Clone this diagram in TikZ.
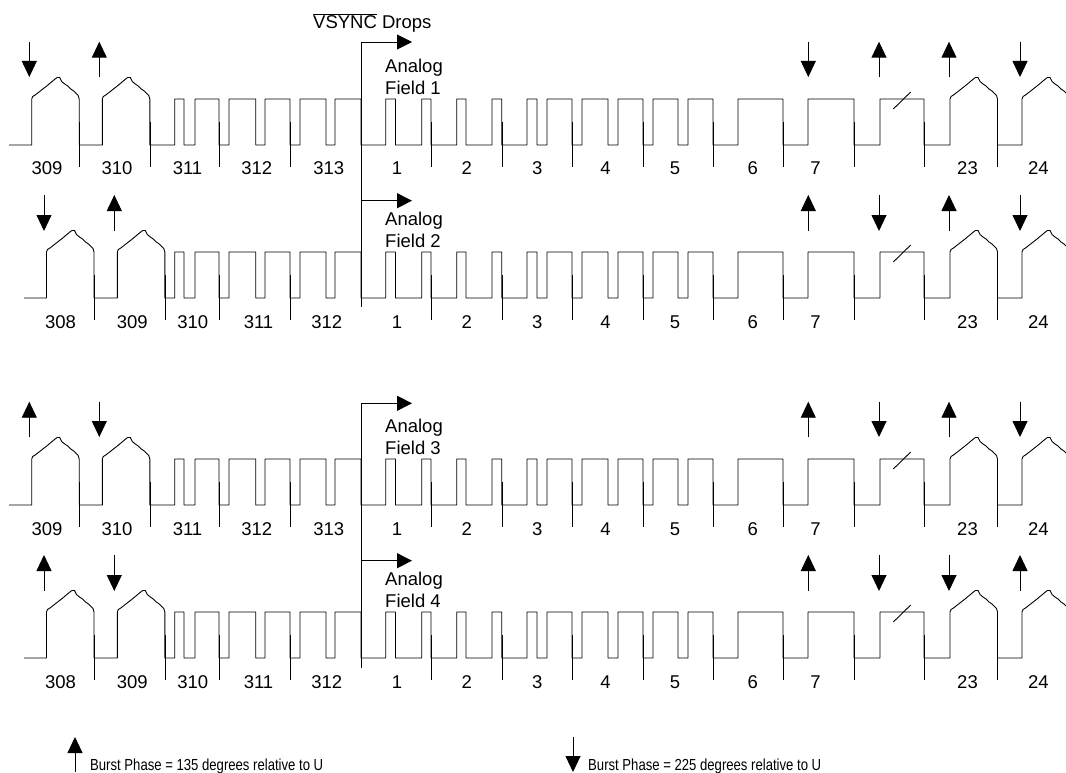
\documentclass[tikz,border=0pt]{standalone}
\usepackage{fontspec}
\setmainfont{Liberation Sans}
\usetikzlibrary{arrows.meta}

\newcommand{\burstbump}{-- ++(1,-2.5) -- ++(2.5,-1.5) -- ++(11.5,-9) -- ++(9,-7.5) -- ++(1.5,-1) -- ++(2.5,0) -- ++(2,4) -- ++(3,2.5) -- ++(3,2) -- ++(3,3) -- ++(3,2) -- ++(2.5,2.5) -- ++(2,2) -- ++(1,3.5)}
\newcommand{\pulsetrain}{\foreach \rx/\fx in {174.7/184,195/219,229/255.7,265/290,300/326,335/361,385.7/395.5,421.7/431,456.7/466,492/501.7,527/537,547/572,582/608,618/643,653/678,688/713,738/783,808/854,880/924} {-- (\rx,0) -- (\rx,-46) -- (\fx,-46) -- (\fx,0)} -- (950,0) -- (950,-46) \burstbump -- ++(0,46) -- (1022,0) -- (1022,-46) \burstbump}
\newcommand{\linenums}[1]{\foreach \x/\t in {397/1,466.7/2,537.3/3,605.5/4,675/5,752.7/6,815.5/7,967.5/23,1038.3/24} \node[anchor=base] (#1-\t) at (\x,30) {\t};}

\begin{document}
\begin{tikzpicture}[x=1pt,y=-1pt,
	wave/.style={line width=0.9pt, line join=round},
	tick/.style={line width=0.9pt},
	phase/.style={line width=0.9pt, -{Triangle[length=16pt,width=15pt]}},
	drop/.style={line width=0.9pt, -{Triangle[length=15pt,width=15pt]}},
	legend/.style={anchor=base west, font=\fontsize{16}{18}\selectfont},
	every node/.style={font=\fontsize{18.5}{22.3}\selectfont, inner sep=0pt}]
\useasboundingbox (0,0) rectangle (1066,773);
\begin{scope}
\clip (0,0) rectangle (1066,773);
	% field 1
	\begin{scope}[shift={(0,145)}]
		\draw[wave] (9,0) -- (31.7,0) -- ++(0,-46) \burstbump -- ++(0,46) -- (102.3,0) -- ++(0,-46) \burstbump -- ++(0,46) \pulsetrain;
		\foreach \x in {79,150,219,290,431,502,572,643,713,783,854,924,997} \draw[tick] (\x,-23) -- (\x,22);
		\draw[wave] (893.3,-36) -- (910.7,-53);
		\foreach \x/\t in {47/309,117/310,187.5/311,256.7/312,328.7/313} \node[anchor=base] (a-\t) at (\x,30) {\t};
		\linenums{a}
		\foreach \x in {29.3,808.3,1020} \draw[phase] (\x,-103.3) -- (\x,-68);
		\foreach \x in {99.3,879,949} \draw[phase] (\x,-68) -- (\x,-103.3);
		\node[anchor=south west, align=left] (field1) at (385,-50) {Analog\\Field 1};
	\end{scope}
	% field 2
	\begin{scope}[shift={(0,298)}]
		\draw[wave] (24,0) -- (46.5,0) -- ++(0,-46) \burstbump -- ++(0,46) -- (117.3,0) -- ++(0,-46) \burstbump -- ++(0,46) \pulsetrain;
		\foreach \x in {94.3,165,219,290,431,502,572,643,713,783,854,924,997} \draw[tick] (\x,-23) -- (\x,22);
		\draw[wave] (893.3,-36) -- (910.7,-53);
		\foreach \x/\t in {60.5/308,132.3/309,192.8/310,258.5/311,326.7/312} \node[anchor=base] (b-\t) at (\x,30) {\t};
		\linenums{b}
		\foreach \x in {44,879,1020} \draw[phase] (\x,-103) -- (\x,-67);
		\foreach \x in {114.3,808.3,949} \draw[phase] (\x,-67) -- (\x,-103);
		\node[anchor=south west, align=left] (field2) at (385,-50) {Analog\\Field 2};
	\end{scope}
	% field 3
	\begin{scope}[shift={(0,505)}]
		\draw[wave] (9,0) -- (31.7,0) -- ++(0,-46) \burstbump -- ++(0,46) -- (102.3,0) -- ++(0,-46) \burstbump -- ++(0,46) \pulsetrain;
		\foreach \x in {79,150,219,290,431,502,572,643,713,783,854,924,997} \draw[tick] (\x,-23) -- (\x,22);
		\draw[wave] (893.3,-36) -- (910.7,-53);
		\foreach \x/\t in {47/309,117/310,187.5/311,256.7/312,328.7/313} \node[anchor=base] (c-\t) at (\x,30) {\t};
		\linenums{c}
		\foreach \x in {99.3,879,1020} \draw[phase] (\x,-103.3) -- (\x,-68);
		\foreach \x in {29.3,808.3,949} \draw[phase] (\x,-68) -- (\x,-103.3);
		\node[anchor=south west, align=left] (field3) at (385,-50) {Analog\\Field 3};
	\end{scope}
	% field 4
	\begin{scope}[shift={(0,658)}]
		\draw[wave] (24,0) -- (46.5,0) -- ++(0,-46) \burstbump -- ++(0,46) -- (117.3,0) -- ++(0,-46) \burstbump -- ++(0,46) \pulsetrain;
		\foreach \x in {94.3,165,219,290,431,502,572,643,713,783,854,924,997} \draw[tick] (\x,-23) -- (\x,22);
		\draw[wave] (893.3,-36) -- (910.7,-53);
		\foreach \x/\t in {60.5/308,132.3/309,192.8/310,258.5/311,326.7/312} \node[anchor=base] (d-\t) at (\x,30) {\t};
		\linenums{d}
		\foreach \x in {114.3,879,949} \draw[phase] (\x,-103) -- (\x,-67);
		\foreach \x in {44,808.3,1020} \draw[phase] (\x,-67) -- (\x,-103);
		\node[anchor=south west, align=left] (field4) at (385,-50) {Analog\\Field 4};
	\end{scope}
\end{scope}

\node[anchor=base west] (vsync) at (313,28.3) {$\overline{\mbox{VSYNC}}$ Drops};
\coordinate (top12) at (361,42);
\coordinate (bot12) at (361,307);
\coordinate (tip1) at (412,42);
\coordinate (mid2) at (361,200.7);
\coordinate (tip2) at (412,200.7);
\coordinate (top34) at (361,403.3);
\coordinate (bot34) at (361,668);
\coordinate (tip3) at (412,403.3);
\coordinate (mid4) at (361,560.7);
\coordinate (tip4) at (412,560.7);
\draw[drop] (bot12) -- (top12) -- (tip1);
\draw[drop] (mid2) -- (tip2);
\draw[drop] (bot34) -- (top34) -- (tip3);
\draw[drop] (mid4) -- (tip4);

\draw[phase] (75,772) -- (75,737);
\node[legend] (legup) at (90,770) {\scalebox{0.82}[1]{Burst Phase = 135 degrees relative to U}};
\draw[phase] (573,737) -- (573,772);
\node[legend] (legdown) at (588,770) {\scalebox{0.82}[1]{Burst Phase = 225 degrees relative to U}};
\end{tikzpicture}
\end{document}
